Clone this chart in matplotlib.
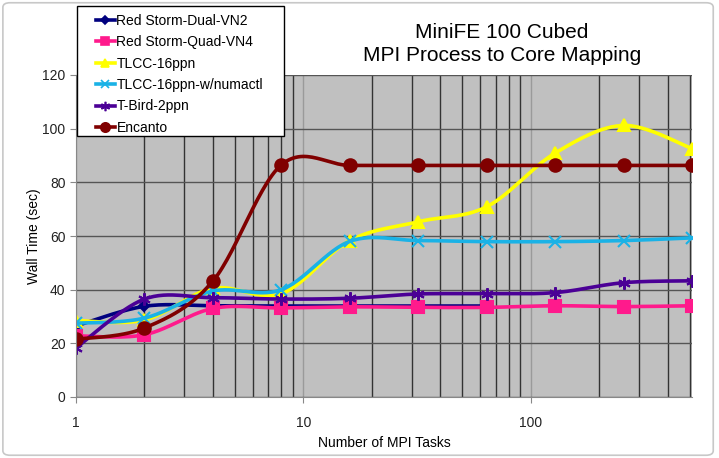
import numpy as np
import matplotlib
matplotlib.use("Agg")
import matplotlib.pyplot as plt
from matplotlib.patches import FancyBboxPatch, Rectangle
from matplotlib.lines import Line2D
from matplotlib.ticker import LogLocator, FixedLocator, NullFormatter

plt.rcParams['font.family'] = ['Liberation Sans', 'DejaVu Sans']

tasks = [1, 2, 4, 8, 16, 32, 64, 128, 256, 512]
dual_vn2 = [26.5, 33.8, 34.0, 33.9, 33.9, 33.9, 33.9]
quad_vn4 = [22.8, 23.2, 33.0, 33.2, 33.6, 33.4, 33.4, 34.0, 33.7, 34.0]
tlcc_16ppn = [28.5, 28.7, 40.5, 38.5, 58.3, 65.3, 70.9, 90.9, 101.2, 92.6]
tlcc_numactl = [27.5, 29.4, 39.5, 40.0, 58.0, 58.3, 57.9, 57.9, 58.3, 59.3]
tbird_2ppn = [18.3, 36.5, 37.0, 36.5, 36.8, 38.4, 38.5, 38.9, 42.6, 43.3]
encanto = [21.5, 25.7, 43.2, 86.5, 86.3, 86.3, 86.3, 86.3, 86.3, 86.3]

series = [
    ("Red Storm-Dual-VN2", dual_vn2, "#00007f", "D", 5),
    ("Red Storm-Quad-VN4", quad_vn4, "#ff1a8c", "s", 8),
    ("TLCC-16ppn", tlcc_16ppn, "#ffff00", "^", 8),
    ("TLCC-16ppn-w/numactl", tlcc_numactl, "#1ab2e6", "x", 8),
    ("T-Bird-2ppn", tbird_2ppn, "#4b0096", (6, 2, 0), 9),
    ("Encanto", encanto, "#800000", "o", 9),
]


def smooth(xs, ys, n=30):
    # excel-like smoothed line: catmull-rom bezier in log-x space
    u = np.log10(np.asarray(xs, float))
    v = np.asarray(ys, float)
    pts = np.column_stack([u, v])
    out = [pts[0]]
    t = np.linspace(0, 1, n)[1:, None]
    for i in range(len(pts) - 1):
        p0 = pts[i - 1] if i > 0 else pts[i]
        p1, p2 = pts[i], pts[i + 1]
        p3 = pts[i + 2] if i + 2 < len(pts) else pts[i + 1]
        c1 = p1 + (p2 - p0) / 6
        c2 = p2 - (p3 - p1) / 6
        seg = ((1 - t) ** 3) * p1 + 3 * ((1 - t) ** 2) * t * c1 + 3 * (1 - t) * t ** 2 * c2 + t ** 3 * p2
        out.extend(seg)
    out = np.array(out)
    return 10 ** out[:, 0], out[:, 1]


W, H = 719, 458
fig = plt.figure(figsize=(W / 100, H / 100), dpi=100)
fig.patches.append(FancyBboxPatch((0.004, 0.006), 0.988, 0.988, boxstyle="round,pad=0,rounding_size=0.01",
                                  transform=fig.transFigure, fc="white", ec="#c8c8c8", lw=1.2, zorder=-10))
ax = fig.add_axes([76 / W, 61 / H, 616 / W, 322 / H])
ax.set_facecolor("#c0c0c0")
ax.set_xscale("log")
ax.set_xlim(1, 512)
ax.set_ylim(0, 120)

ax.xaxis.set_major_locator(FixedLocator([1, 10, 100]))
ax.set_xticklabels(["1", "10", "100"])
ax.xaxis.set_minor_locator(LogLocator(base=10, subs=np.arange(2, 10)))
ax.xaxis.set_minor_formatter(NullFormatter())
ax.set_yticks(range(0, 121, 20))

ax.grid(which="major", axis="x", color="#9a9a9a", lw=1)
ax.grid(which="minor", axis="x", color="#333333", lw=1)
ax.grid(which="major", axis="y", color="#555555", lw=1)
ax.set_axisbelow(True)

for s in ["top", "right"]:
    ax.spines[s].set_visible(False)
ax.spines["left"].set_color("#888888")
ax.spines["bottom"].set_color("#888888")
ax.tick_params(axis="both", which="major", colors="#888888", labelcolor="#222222", labelsize=10, length=4)
ax.tick_params(axis="x", which="minor", length=0)
ax.tick_params(axis="x", pad=10)

for name, vals, col, mk, ms in series:
    xs = tasks[:len(vals)]
    sx, sy = smooth(xs, vals)
    ax.plot(sx, sy, color=col, lw=2.6, solid_capstyle="round")
    ax.plot(xs, vals, ls="none", marker=mk, color=col, ms=ms, mew=1.5)

# legend box drawn by hand so its size matches the original
fig.patches.append(Rectangle((77 / W, 1 - 136 / H), 207 / W, 130 / H, transform=fig.transFigure,
                             fc="white", ec="black", lw=1, zorder=4))
handles = []
for name, vals, col, mk, ms in series:
    handles.append(Line2D([], [], color=col, lw=2.6, marker=mk, ms=ms * 0.75, mew=1.2, label=name))
leg = fig.legend(handles=handles, loc="upper left", bbox_to_anchor=(96 / W, 1 - 14 / H),
                 frameon=False, fontsize=10, handlelength=1.35, handletextpad=0.12,
                 labelspacing=0.53, borderpad=0, borderaxespad=0)
leg.set_zorder(5)

ax.set_xlabel("Number of MPI Tasks", fontsize=10, labelpad=4)
ax.set_ylabel("Wall Time (sec)", fontsize=10, labelpad=1)
fig.text(502 / W, 1 - 44 / H, "MiniFE 100 Cubed\nMPI Process to Core Mapping", ha="center", va="center",
         fontsize=15, linespacing=1.3)

fig.savefig("out.png", dpi=100)
